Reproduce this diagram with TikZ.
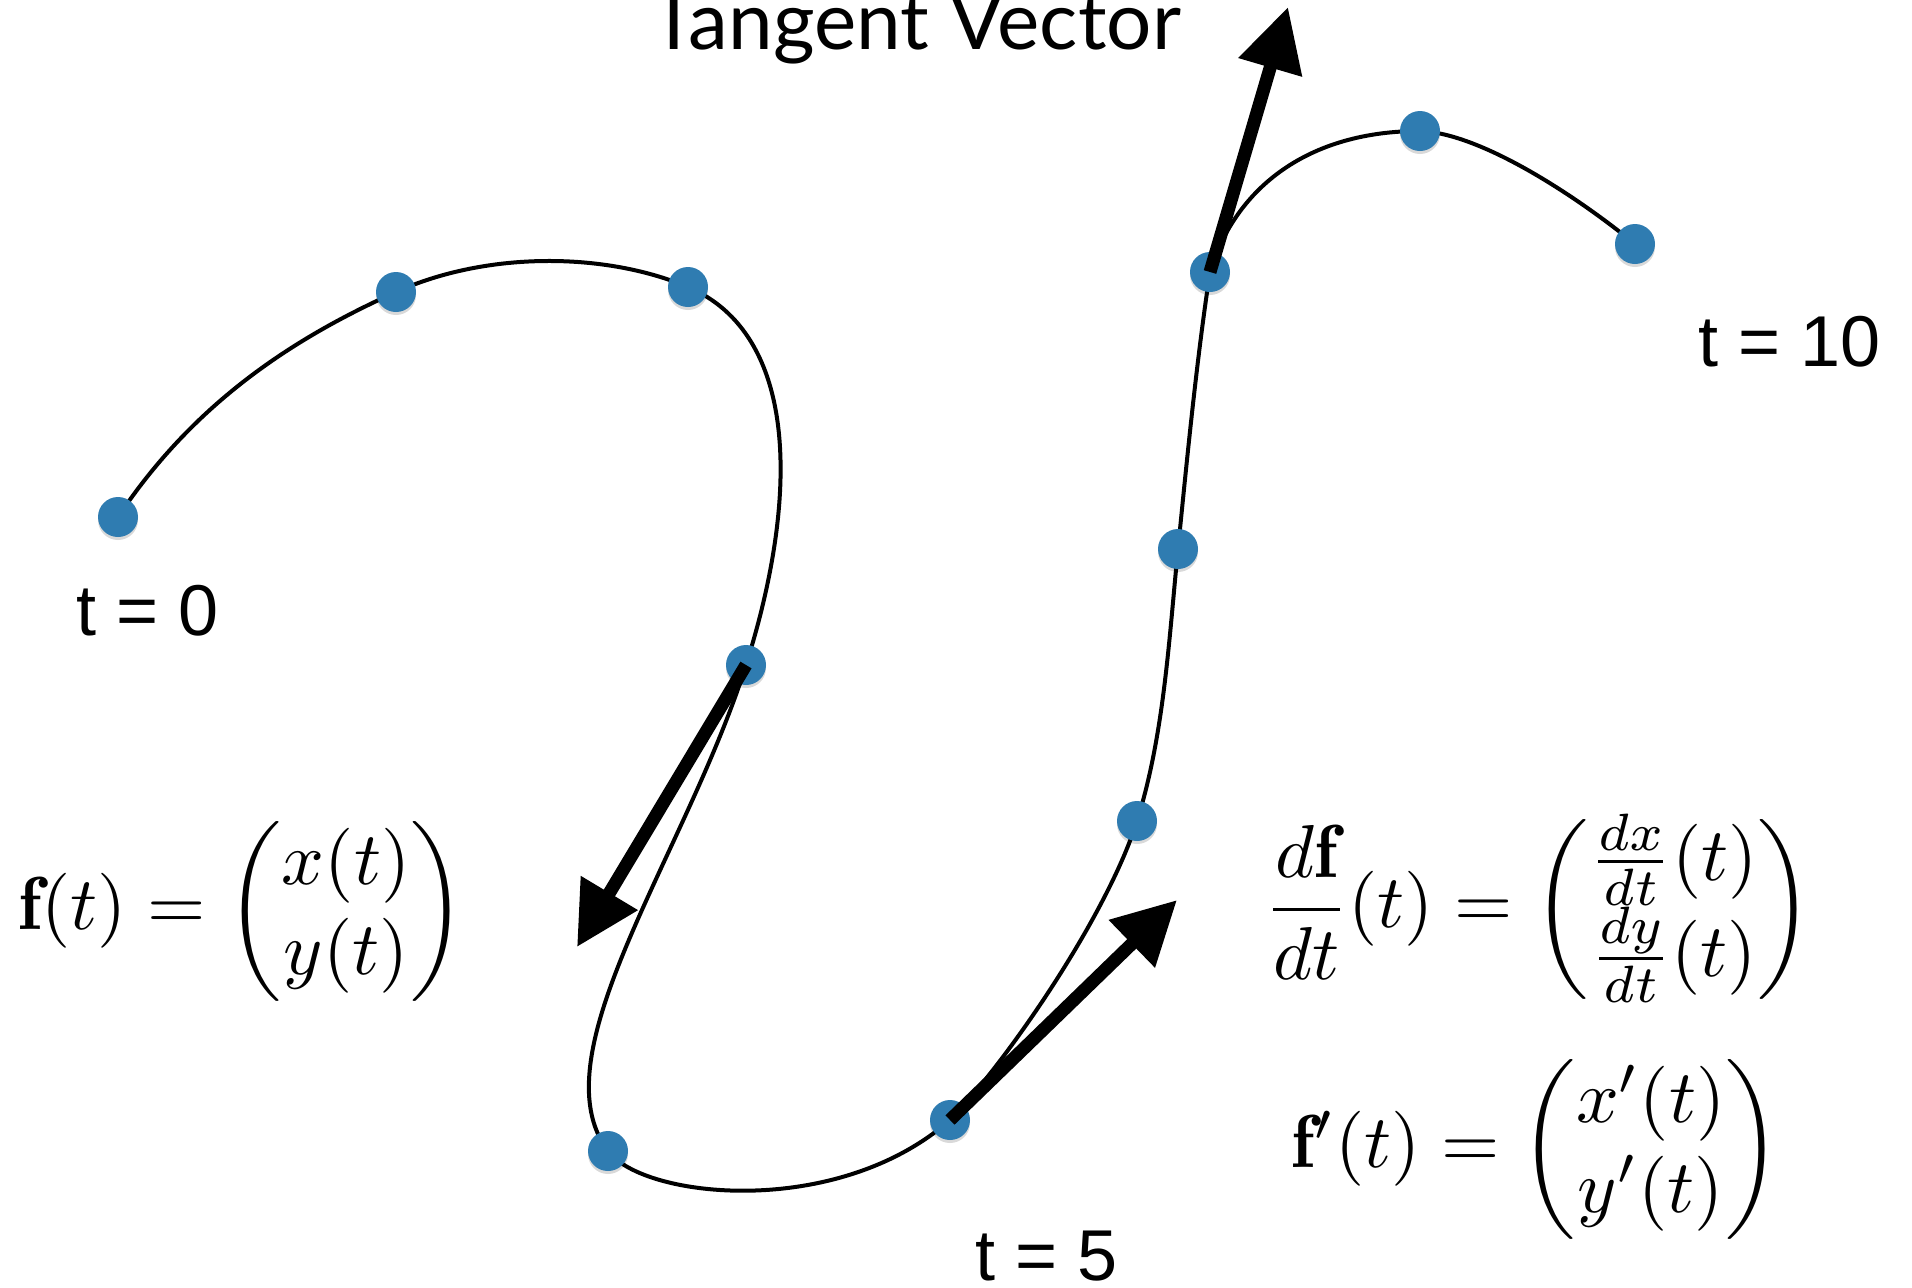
\documentclass[tikz,border=0pt]{standalone}
\usepackage{amsmath}
\usepackage{graphicx}
\usepackage{fontspec}
\newfontfamily\labfont{Liberation Sans}
\newfontfamily\titlefont{Lato}
\usetikzlibrary{arrows.meta}
\definecolor{dotblue}{RGB}{47,124,177}
\tikzset{
  curveline/.style={line width=2pt, black},
  dotnode/.style={circle, fill=dotblue, minimum size=20pt, inner sep=0pt, draw=none},
  tanvec/.style={line width=6.5pt, -{Triangle[length=31.5pt,width=31.5pt]}},
  tlabel/.style={font=\labfont\fontsize{36}{43}\selectfont, inner sep=0pt, anchor=base west},
  formula/.style={inner sep=0pt, anchor=west},
  titlestyle/.style={font=\titlefont\fontsize{40}{48}\selectfont, inner sep=0pt, anchor=base west},
}
\newcommand\bigmath[1]{\scalebox{3.75}{$#1$}}
\begin{document}
\begin{tikzpicture}[x=0.5pt,y=-0.5pt]
\useasboundingbox (0,0) rectangle (1912,1287);
\fill[white] (0,0) rectangle (1912,1287);
% points on the curve
\coordinate (p0) at (118,517);
\coordinate (p1) at (396,292);
\coordinate (p2) at (688,287);
\coordinate (p3) at (746,665);
\coordinate (p4) at (608,1151);
\coordinate (p5) at (950,1120);
\coordinate (p6) at (1137,821);
\coordinate (p7) at (1178,549);
\coordinate (p8) at (1210,272);
\coordinate (p9) at (1420,131);
\coordinate (p10) at (1635,244);
% curve
\draw[curveline] (p0) .. controls (195,401) and (296,337) .. (p1)
 .. controls (487,251) and (605,252) .. (p2)
 .. controls (798,334) and (800,494) .. (p3)
 .. controls (686,855) and (536,1055) .. (p4)
 .. controls (644,1199) and (837.5,1219) .. (p5)
 .. controls (1006,1063) and (1107,916) .. (p6)
 .. controls (1164,735.5) and (1169,639) .. (p7)
 .. controls (1187,459) and (1196.5,361) .. (p8)
 .. controls (1236,186) and (1310,131) .. (p9)
 .. controls (1480,133) and (1575,195) .. (p10);
% shadows and dots
\foreach \p in {p0,p1,p2,p3,p4,p5,p6,p7,p8,p9,p10}
  \fill[black, opacity=0.15] ([yshift=-1.5pt]\p) circle (10pt);
\foreach \p in {0,...,10}
  \node[dotnode] (d\p) at (p\p) {};
% tangent vectors
\coordinate (v1) at (577,947);
\coordinate (v2) at (1177,900);
\coordinate (v3) at (1288,7);
\draw[tanvec] (d3.center) -- (v1);
\draw[tanvec] (d5.center) -- (v2);
\draw[tanvec] (d8.center) -- (v3);
% labels
\node[titlestyle] (title) at (650,49) {Tangent Vector};
\node[tlabel] (l0) at (76,635) {t = 0};
\node[tlabel] (l5) at (975,1280) {t = 5};
\node[tlabel] (l10) at (1698,366) {t = 10};
% formulas
\node[formula] (f1) at (18,911) {\bigmath{\mathbf{f}(t)=\begin{pmatrix}x(t)\\ y(t)\end{pmatrix}}};
\node[formula] (f2) at (1264,909) {\bigmath{\dfrac{d\mathbf{f}}{dt}(t)=\begin{pmatrix}\frac{dx}{dt}(t)\\ \frac{dy}{dt}(t)\end{pmatrix}}};
\node[formula] (f3) at (1291,1149) {\bigmath{\mathbf{f}'(t)=\begin{pmatrix}x'(t)\\ y'(t)\end{pmatrix}}};
\end{tikzpicture}
\end{document}
